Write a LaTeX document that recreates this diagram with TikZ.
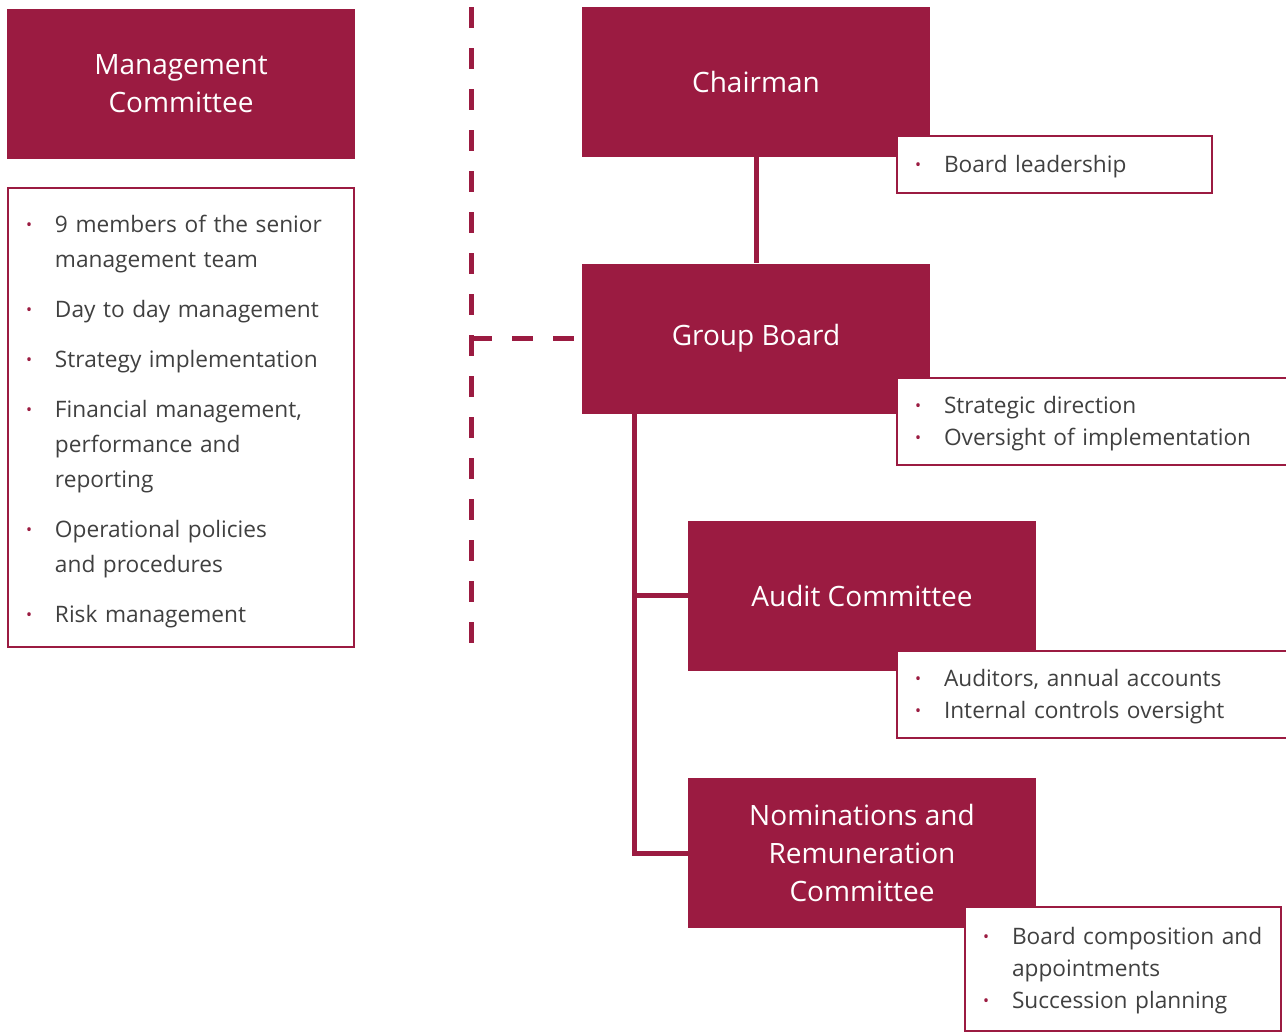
\documentclass[tikz,border=0pt]{standalone}
\usepackage{fontspec}
\setmainfont{Open Sans}
\usetikzlibrary{calc}

\definecolor{boardred}{RGB}{155,27,65}
\definecolor{dutygrey}{RGB}{64,64,64}

% one bullet line of a duties box
\newcommand\dutyitem{\par\hangindent=20.25pt\hangafter=1\noindent
  \hbox to 20.25pt{\hspace{-1.5pt}\raisebox{1.6pt}{\color{boardred}\fontsize{12}{12}\selectfont\textbullet}\hfil}}
% lift the text block a little inside its box
\newcommand\dutyend[1]{\endgraf\kern #1}

\begin{document}
\begin{tikzpicture}
  [ x=0.75pt, y=-0.75pt,
    unit/.style={
      rectangle,
      fill=boardred,
      text=white,
      minimum width=261pt,
      minimum height=112.5pt,
      align=center,
      font=\fontsize{21}{28.5}\selectfont},
    duties/.style={
      rectangle,
      draw=boardred,
      line width=1.5pt,
      fill=white,
      text=dutygrey,
      inner xsep=15pt,
      inner ysep=0pt,
      align=left,
      font=\fontsize{17}{24}\selectfont},
    lift/.style={
      execute at end node=\dutyend{#1}},
    mclist/.style={
      font=\fontsize{17}{26.25}\selectfont\setlength\parskip{11.25pt}\vskip-18pt},
    link/.style={
      draw=boardred,
      line width=3.75pt},
    split/.style={
      draw=boardred,
      line width=3.75pt,
      dash pattern=on 15.75pt off 15pt},
  ]
  \useasboundingbox (0,0) rectangle (1286,1032);

  % committees and board
  \node (mgmt) [unit] at (181,84) {Management\\Committee};
  \node (chair) [unit] at (756,82) {Chairman};
  \node (board) [unit] at (756,338.5) {Group Board};
  \node (audit) [unit] at (862,595.5) {Audit Committee};
  \node (nomin) [unit] at (862,853) {Nominations and\\Remuneration\\Committee};

  % duties
  \node (mgmtduty) [duties, mclist, text width=229.5pt, minimum height=344.25pt] at (181,417.5) {%
    \dutyitem 9 members of the senior\newline management team
    \dutyitem Day to day management
    \dutyitem Strategy implementation
    \dutyitem Financial management,\newline performance and\newline reporting
    \dutyitem Operational policies\newline and procedures
    \dutyitem Risk management};
  \node (chairduty) [duties, lift=8pt, text width=206.25pt, minimum height=42.75pt] at (1054.5,164.5) {%
    \dutyitem Board leadership};
  \node (boardduty) [duties, lift=8pt, text width=264.75pt, minimum height=65.25pt] at (1093.5,421.5) {%
    \dutyitem Strategic direction
    \dutyitem Oversight of implementation};
  \node (auditduty) [duties, lift=8pt, text width=264.75pt, minimum height=65.25pt] at (1093.5,694.5) {%
    \dutyitem Auditors, annual accounts
    \dutyitem Internal controls oversight};
  \node (nominduty) [duties, lift=8pt, text width=207pt, minimum height=93pt] at (1123,969) {%
    \dutyitem \mbox{Board composition and}\newline appointments
    \dutyitem Succession planning};

  % reporting lines
  \draw[link] (chair) -- (board);
  \coordinate (trunk) at ($(board.south west)+(53,0)$);
  \draw[link] (trunk) |- (audit.west);
  \draw[link] (trunk) |- (nomin.west);

  % split between management and board
  \coordinate (splittop) at (471,7);
  \coordinate (splitbot) at (471,647);
  \draw[split] (splittop) -- (splitbot);
  \draw[split] (board.west -| splittop) -- (board.west);
\end{tikzpicture}
\end{document}
